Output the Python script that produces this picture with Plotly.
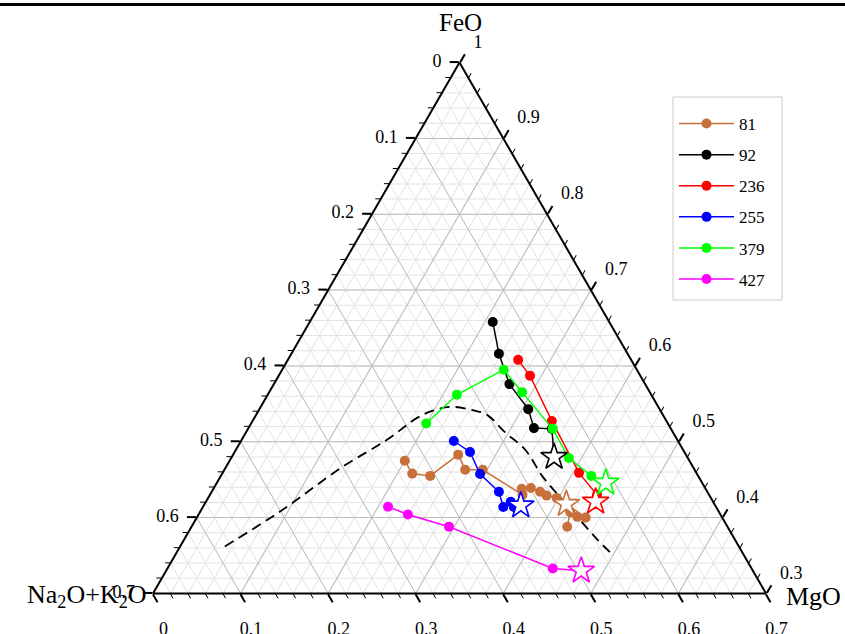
import plotly.graph_objects as go

# ---------------- data (FeO, Na2O+K2O, MgO) ----------------
series_names = ["81", "92", "236", "255", "379", "427"]
series_colors = ["#C8703C", "#000000", "#FF0000", "#0000FF", "#00FF00", "#FF00FF"]

feo_81 = [0.475, 0.458, 0.455, 0.483, 0.463, 0.463, 0.430, 0.438, 0.439, 0.434, 0.429, 0.426, 0.418, 0.400, 0.401, 0.407, 0.388]
alk_81 = [0.325, 0.325, 0.306, 0.260, 0.262, 0.242, 0.213, 0.210, 0.199, 0.191, 0.186, 0.176, 0.169, 0.156, 0.165, 0.170, 0.183]
mgo_81 = [0.200, 0.217, 0.239, 0.257, 0.275, 0.295, 0.357, 0.352, 0.362, 0.375, 0.385, 0.398, 0.413, 0.444, 0.434, 0.423, 0.429]
star_81 = 12

feo_92 = [0.658, 0.616, 0.576, 0.543, 0.518, 0.517, 0.480]
alk_92 = [0.133, 0.147, 0.155, 0.150, 0.156, 0.136, 0.152]
mgo_92 = [0.209, 0.237, 0.269, 0.307, 0.326, 0.347, 0.368]
star_92 = 6

feo_236 = [0.608, 0.587, 0.528, 0.459, 0.430, 0.421]
alk_236 = [0.129, 0.126, 0.131, 0.134, 0.128, 0.134]
mgo_236 = [0.263, 0.287, 0.342, 0.407, 0.442, 0.445]
star_236 = 5

feo_255 = [0.501, 0.487, 0.458, 0.434, 0.414, 0.421, 0.414, 0.416]
alk_255 = [0.256, 0.245, 0.248, 0.238, 0.243, 0.231, 0.231, 0.222]
mgo_255 = [0.243, 0.269, 0.295, 0.328, 0.343, 0.348, 0.355, 0.362]
star_255 = 7

feo_379 = [0.524, 0.562, 0.595, 0.566, 0.517, 0.479, 0.455, 0.446]
alk_379 = [0.276, 0.222, 0.152, 0.146, 0.135, 0.136, 0.122, 0.110]
mgo_379 = [0.200, 0.216, 0.253, 0.289, 0.348, 0.386, 0.423, 0.444]
star_379 = 7

feo_427 = [0.414, 0.404, 0.388, 0.333, 0.330]
alk_427 = [0.374, 0.357, 0.318, 0.227, 0.196]
mgo_427 = [0.211, 0.239, 0.294, 0.440, 0.474]
star_427 = 4

# dashed tholeiitic / calc-alkaline boundary
feo_line = [0.362, 0.408, 0.467, 0.503, 0.532, 0.541, 0.546, 0.542, 0.536, 0.513, 0.489, 0.454, 0.428, 0.401, 0.371, 0.349]
alk_line = [0.587, 0.501, 0.400, 0.332, 0.283, 0.260, 0.236, 0.215, 0.201, 0.192, 0.180, 0.178, 0.172, 0.165, 0.157, 0.149]
mgo_line = [0.051, 0.091, 0.133, 0.166, 0.186, 0.199, 0.218, 0.243, 0.264, 0.295, 0.330, 0.368, 0.401, 0.434, 0.472, 0.502]

# tick labels (left: Na2O+K2O, bottom: MgO, right: FeO)
a_tickvals = [0.3, 0.4, 0.5, 0.6, 0.7, 0.8, 0.9, 1.0]
a_ticktext = ["0.7", "0.6", "0.5", "0.4", "0.3", "0.2", "0.1", "0"]
b_tickvals = [0.0, 0.1, 0.2, 0.3, 0.4, 0.5, 0.6, 0.7]
b_ticktext = ["0.7", "0.6", "0.5", "0.4", "0.3", "0.2", "0.1", "0"]
c_tickvals = [0.0, 0.1, 0.2, 0.3, 0.4, 0.5, 0.6, 0.7]
c_ticktext = ["1", "0.9", "0.8", "0.7", "0.6", "0.5", "0.4", "0.3"]

series = [
    (feo_81, alk_81, mgo_81, star_81),
    (feo_92, alk_92, mgo_92, star_92),
    (feo_236, alk_236, mgo_236, star_236),
    (feo_255, alk_255, mgo_255, star_255),
    (feo_379, alk_379, mgo_379, star_379),
    (feo_427, alk_427, mgo_427, star_427),
]

FONT = "Liberation Serif"
fig = go.Figure()

# placeholder traces so the grid (ternary) and label (ternary3) subplots are drawn
for sp in ["ternary", "ternary3"]:
    fig.add_trace(go.Scatterternary(a=[1.0], b=[0.0], c=[0.0], mode="markers", subplot=sp,
                                    marker=dict(size=1, color="rgba(0,0,0,0)"),
                                    showlegend=False, hoverinfo="skip"))

fig.add_trace(go.Scatterternary(
    a=feo_line, b=alk_line, c=mgo_line, mode="lines", subplot="ternary2",
    line=dict(color="black", width=1.8, dash="10px,6px", shape="spline"),
    showlegend=False, hoverinfo="skip"))

for (fa, fb, fc, si), name, col in zip(series, series_names, series_colors):
    fig.add_trace(go.Scatterternary(
        a=fa, b=fb, c=fc, mode="lines+markers", name=name, subplot="ternary2",
        line=dict(color=col, width=1.5),
        marker=dict(color=col, size=10, symbol="circle"),
        legendgroup=name))
for (fa, fb, fc, si), name, col in zip(series, series_names, series_colors):
    fig.add_trace(go.Scatterternary(
        a=[fa[si]], b=[fb[si]], c=[fc[si]], mode="markers", subplot="ternary2",
        marker=dict(color="white", size=20, symbol="star",
                    line=dict(color=col, width=1.6)),
        showlegend=False, hoverinfo="skip"))

dom = dict(x=[153 / 845, 766 / 845], y=[40 / 634, 572 / 634])

minor_axis = dict(dtick=0.02, showgrid=True, gridcolor="#e4e4e4", gridwidth=1,
                  showline=False, ticks="outside", ticklen=5, tickwidth=1.3, tickcolor="black",
                  showticklabels=False, title=dict(text=""))
major_axis = dict(tickmode="array", showgrid=True, gridcolor="#bdbdbd", gridwidth=1,
                  showline=True, linecolor="black", linewidth=2,
                  ticks="outside", ticklen=9, tickwidth=2, tickcolor="black",
                  showticklabels=False, title=dict(text=""))
label_axis = dict(tickmode="array", showgrid=False, showline=False,
                  ticks="outside", tickcolor="rgba(0,0,0,0)", tickwidth=1,
                  showticklabels=True, tickfont=dict(size=18, family=FONT, color="black"),
                  title=dict(text=""))

fig.update_layout(
    width=845, height=634,
    margin=dict(l=0, r=0, t=0, b=0),
    paper_bgcolor="white",
    font=dict(family=FONT, color="black"),
    ternary=dict(domain=dom, sum=1, bgcolor="white",
                 aaxis=dict(minor_axis, min=0.3),
                 baxis=dict(minor_axis, min=0),
                 caxis=dict(minor_axis, min=0)),
    ternary2=dict(domain=dom, sum=1, bgcolor="rgba(0,0,0,0)",
                  aaxis=dict(major_axis, min=0.3, tickvals=a_tickvals),
                  baxis=dict(major_axis, min=0, tickvals=b_tickvals),
                  caxis=dict(major_axis, min=0, tickvals=c_tickvals)),
    ternary3=dict(domain=dom, sum=1, bgcolor="rgba(0,0,0,0)",
                  aaxis=dict(label_axis, min=0.3, tickvals=a_tickvals, ticktext=a_ticktext, ticklen=15),
                  baxis=dict(label_axis, min=0, tickvals=b_tickvals, ticktext=b_ticktext, ticklen=21),
                  caxis=dict(label_axis, min=0, tickvals=c_tickvals, ticktext=c_ticktext, ticklen=22)),
    legend=dict(x=674 / 845, y=1 - 106 / 634, xanchor="left", yanchor="top",
                borderwidth=0, bgcolor="rgba(0,0,0,0)",
                font=dict(size=17, family=FONT), tracegroupgap=6, itemwidth=55),
    shapes=[dict(type="line", xref="paper", yref="paper", x0=0, x1=1,
                 y0=1 - 4.5 / 634, y1=1 - 4.5 / 634, line=dict(color="black", width=3)),
            dict(type="rect", xref="paper", yref="paper", x0=673 / 845, x1=782 / 845,
                 y0=1 - 300 / 634, y1=1 - 97 / 634, line=dict(color="#cccccc", width=1),
                 fillcolor="white", layer="below")],
    annotations=[
        dict(text="FeO", xref="paper", yref="paper", x=460 / 845, y=1 - 22 / 634,
             xanchor="center", yanchor="middle", showarrow=False,
             font=dict(size=25, family=FONT)),
        dict(text="Na<sub>2</sub>O+K<sub>2</sub>O", xref="paper", yref="paper", x=149 / 845, y=1 - 596 / 634,
             xanchor="right", yanchor="middle", showarrow=False,
             font=dict(size=26, family=FONT)),
        dict(text="MgO", xref="paper", yref="paper", x=784 / 845, y=1 - 596 / 634,
             xanchor="left", yanchor="middle", showarrow=False,
             font=dict(size=26, family=FONT)),
    ],
)

fig.write_html("out.html", config={"displayModeBar": False},
               post_script="document.body.style.margin='0';")
